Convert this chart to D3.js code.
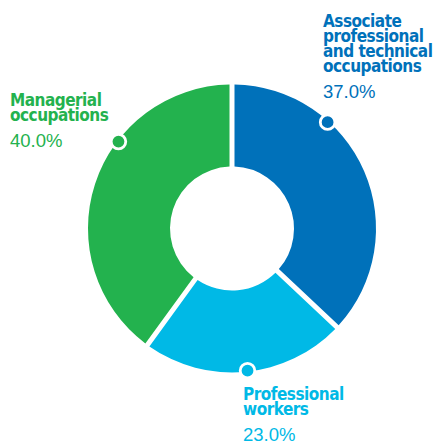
<!DOCTYPE html>
<html>
<head>
<meta charset="utf-8">
<script src="https://cdn.jsdelivr.net/npm/d3@7"></script>
<style>
  body { margin: 0; background: #fff; }
</style>
</head>
<body>
<div id="chart"></div>
<script>
// data
var categories = ["Associate professional and technical occupations", "Professional workers", "Managerial occupations"];
var values = [37.0, 23.0, 40.0];
var labelLines = [
    ["Associate", "professional", "and technical", "occupations"],
    ["Professional", "workers"],
    ["Managerial", "occupations"]
];
var colors = ["#0071BA", "#00B9E6", "#23B24E"];
// where the marker dot sits along each slice (0 = start, 1 = end)
var markerAt = [0.315, 0.49, 0.635];

var width = 436, height = 444;
var cx = 232, cy = 228.5;
var outerR = 144, innerR = 62;

var svg = d3.select("#chart").append("svg")
    .attr("width", width)
    .attr("height", height);

var g = svg.append("g")
    .attr("transform", "translate(" + cx + "," + cy + ")");

var pie = d3.pie()
    .sort(null)
    .value(function(d) { return d; });

var arcs = pie(values);

var arc = d3.arc()
    .innerRadius(innerR)
    .outerRadius(outerR)
    .padRadius(outerR)
    .padAngle(5 / outerR);

g.selectAll(".slice")
    .data(arcs)
    .enter().append("path")
        .attr("class", "slice")
        .attr("d", arc)
        .attr("fill", function(d, i) { return colors[i]; });

// marker dots on the outer edge
g.selectAll(".marker")
    .data(arcs)
    .enter().append("circle")
        .attr("class", "marker")
        .attr("cx", function(d, i) {
            var a = d.startAngle + (d.endAngle - d.startAngle) * markerAt[i];
            return Math.sin(a) * (outerR - 1);
        })
        .attr("cy", function(d, i) {
            var a = d.startAngle + (d.endAngle - d.startAngle) * markerAt[i];
            return -Math.cos(a) * (outerR - 1);
        })
        .attr("r", 7.3)
        .attr("fill", function(d, i) { return colors[i]; })
        .attr("stroke", "#fff")
        .attr("stroke-width", 2.8);

// label anchors (left x, first baseline)
var labelPos = [[323, 26.5], [243, 400], [10, 106]];
var lineH = 15, pctGap = 26;

var labels = svg.selectAll(".label")
    .data(arcs)
    .enter().append("text")
        .attr("class", "label")
        .attr("fill", function(d, i) { return colors[i]; });

labels.each(function(d, i) {
    var t = d3.select(this);
    var x = labelPos[i][0], y = labelPos[i][1];
    labelLines[i].forEach(function(line, j) {
        t.append("tspan")
            .attr("x", x)
            .attr("y", y + j * lineH)
            .style("font-family", "'DejaVu Sans Condensed', 'DejaVu Sans', sans-serif")
            .style("font-stretch", "condensed")
            .style("font-weight", "bold")
            .style("font-size", "17px")
            .style("letter-spacing", "-0.5px")
            .text(line);
    });
    t.append("tspan")
        .attr("x", x)
        .attr("y", y + (labelLines[i].length - 1) * lineH + pctGap)
        .style("font-family", "'Liberation Sans', Arial, sans-serif")
        .style("font-size", "18.5px")
        .text(d3.format(".1f")(d.data) + "%");
});
</script>
</body>
</html>
